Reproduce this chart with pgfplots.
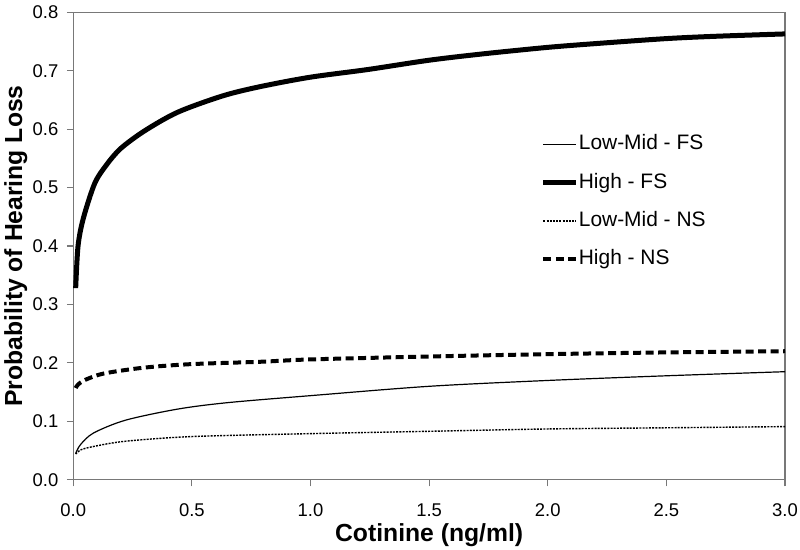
\documentclass[border=0pt]{standalone}
\usepackage{pgfplots}
\pgfplotsset{compat=1.18}
\usepackage{fontspec}
\setmainfont{Liberation Sans}
\definecolor{axgray}{RGB}{120,120,120}
\newcommand{\tkfont}{\fontsize{18.5}{21}\selectfont}
\begin{document}
\begin{tikzpicture}
\path[use as bounding box] (-73.3bp,-70.2bp) rectangle (726.7bp,479.8bp);
\begin{axis}[
  at={(0,0)}, anchor=south west,
  scale only axis,
  width=711.7bp, height=467.5bp,
  xmin=0, xmax=3, ymin=0, ymax=0.8,
  xtick={0,0.5,...,3.0}, ytick={0,0.1,...,0.8},
  xtick pos=left, ytick pos=left,
  tick align=outside,
  major tick length=6.5bp,
  axis line style={axgray, line width=1.1bp},
  every tick/.style={axgray, line width=1.1bp},
  /pgf/number format/assume math mode=true,
  xticklabel={\tkfont\pgfmathprintnumber[fixed,fixed zerofill,precision=1]{\tick}},
  yticklabel={\tkfont\pgfmathprintnumber[fixed,fixed zerofill,precision=1]{\tick}},
  tick label style={font=\tkfont, text=black},
  xticklabel style={anchor=base, yshift=-30bp},
  yticklabel style={anchor=east, xshift=-5bp},
  xlabel={Cotinine (ng/ml)},
  ylabel={Probability of Hearing Loss},
  label style={font=\fontsize{24.8}{29}\selectfont\bfseries},
  xlabel style={at={(axis description cs:0.5,0)}, anchor=base, yshift=-61.5bp},
  ylabel style={at={(axis description cs:-0.072,0.5)}, anchor=base},
  clip=false,
  legend style={draw=none, fill=none, inner sep=0pt, outer sep=0pt,
    at={(0.657,0.738)}, anchor=north west,
    font=\fontsize{21}{25}\selectfont, row sep=19.3bp,
    nodes={inner sep=0pt, text height=15bp, text depth=4bp}},
  legend cell align=left,
  legend image code/.code={\draw[#1] (0bp,0bp) -- (33bp,0bp);},
]
\addplot[black, line width=1.2bp, smooth] coordinates {
(0.01,0.045) (0.03,0.060) (0.085,0.080) (0.22,0.102) (0.44,0.121) (0.65,0.132) (1.0,0.144) (1.5,0.160) (2.0,0.170) (2.5,0.178) (3.0,0.185)};
\addlegendentry{Low-Mid - FS}
\addplot[black, line width=5bp, smooth] coordinates {
(0.01,0.328) (0.02,0.400) (0.042,0.447) (0.09,0.507) (0.14,0.539) (0.2,0.567) (0.3,0.597) (0.44,0.629) (0.63,0.657) (0.79,0.673) (1.0,0.689) (1.24,0.702) (1.5,0.718) (1.73,0.729) (2.0,0.740) (2.22,0.747) (2.5,0.755) (2.71,0.759) (3.0,0.763)};
\addlegendentry{High - FS}
\addplot[black, line width=1.4bp, dash pattern=on 2bp off 1.2bp, smooth] coordinates {
(0.01,0.044) (0.03,0.051) (0.085,0.057) (0.22,0.066) (0.5,0.074) (1.0,0.079) (1.5,0.083) (2.0,0.087) (2.5,0.089) (3.0,0.091)};
\addlegendentry{Low-Mid - NS}
\addplot[black, line width=4bp, dash pattern=on 8bp off 4.5bp, smooth] coordinates {
(0.01,0.157) (0.02,0.163) (0.05,0.171) (0.13,0.182) (0.3,0.192) (0.5,0.198) (0.79,0.202) (1.0,0.206) (1.5,0.211) (2.0,0.215) (2.5,0.218) (3.0,0.220)};
\addlegendentry{High - NS}
\end{axis}
\end{tikzpicture}
\end{document}
